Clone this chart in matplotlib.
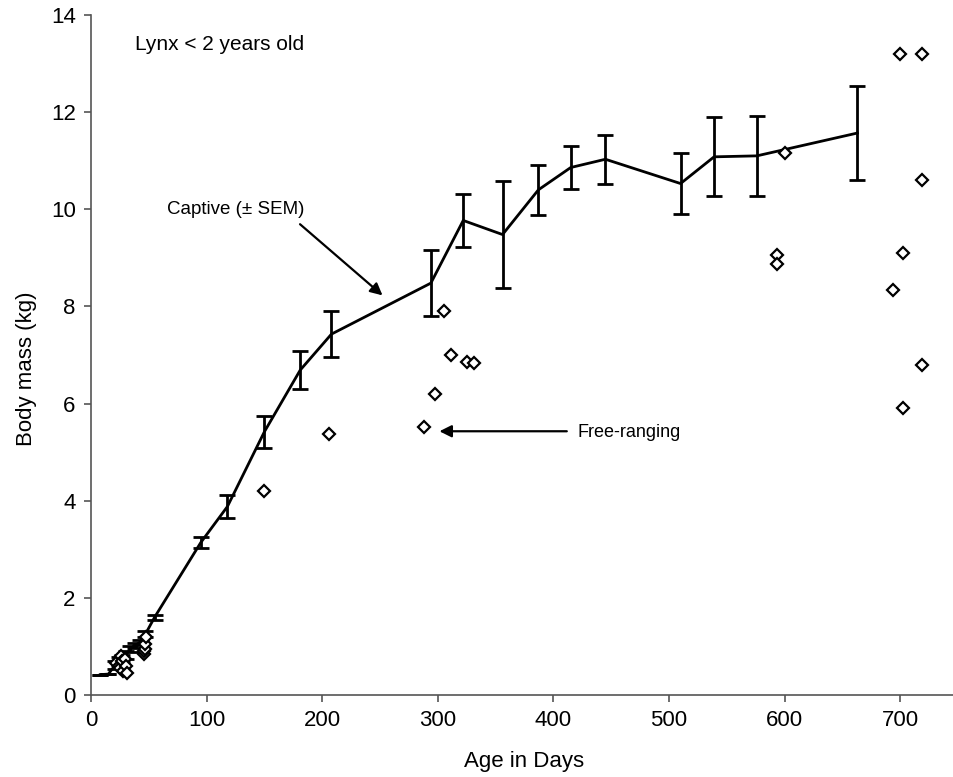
import matplotlib
matplotlib.use("Agg")
import matplotlib.pyplot as plt

plt.rcParams['font.family'] = ['Liberation Sans', 'DejaVu Sans']

# Captive lynx: mean body mass and SEM
cap_age = [8, 15, 21, 24, 27, 30, 34, 38, 42, 47, 55, 95, 118, 150, 181, 208,
           294, 322, 356, 387, 415, 445, 510, 539, 576, 663]
cap_mass = [0.42, 0.43, 0.62, 0.70, 0.75, 0.82, 0.95, 1.02, 1.08, 1.25, 1.60,
            3.14, 3.88, 5.42, 6.69, 7.43, 8.48, 9.77, 9.48, 10.40, 10.86,
            11.03, 10.53, 11.08, 11.10, 11.57]
cap_sem = [0.0, 0.0, 0.08, 0.08, 0.08, 0.08, 0.06, 0.06, 0.06, 0.06, 0.05,
           0.12, 0.24, 0.33, 0.39, 0.48, 0.68, 0.55, 1.10, 0.52, 0.44, 0.50,
           0.63, 0.81, 0.82, 0.97]

# Free-ranging lynx
free_age = [22, 24, 25, 26, 27, 28, 29, 30, 31, 46, 46, 47, 47, 48,
            150, 206, 288, 298, 305, 311, 325, 331,
            593, 593, 600, 694, 700, 702, 702, 719, 719, 719]
free_mass = [0.65, 0.60, 0.55, 0.80, 0.70, 0.50, 0.75, 0.60, 0.45, 0.85, 0.90,
             0.95, 1.05, 1.20,
             4.20, 5.37, 5.51, 6.19, 7.90, 7.00, 6.85, 6.83,
             9.05, 8.88, 11.15, 8.33, 13.20, 9.10, 5.90, 13.20, 10.60, 6.80]

x_ticks = [0, 100, 200, 300, 400, 500, 600, 700]
y_ticks = [0, 2, 4, 6, 8, 10, 12, 14]

fig = plt.figure(figsize=(9.54, 7.77), dpi=100)
ax = fig.add_axes([91/954, 82/777, 867/954, 680/777])

ax.errorbar(cap_age, cap_mass, yerr=cap_sem, color='black', lw=2,
            elinewidth=2, capsize=6, capthick=2, zorder=3)
ax.plot(free_age, free_mass, linestyle='none', marker='D', markersize=6,
        markerfacecolor='white', markeredgecolor='black', markeredgewidth=1.6,
        zorder=4)

ax.set_xlim(0, 750)
ax.set_ylim(0, 14)
ax.set_xticks(x_ticks)
ax.set_yticks(y_ticks)
for s in ['top', 'right']:
    ax.spines[s].set_visible(False)
for s in ['left', 'bottom']:
    ax.spines[s].set_color('#555555')
    ax.spines[s].set_linewidth(1.2)
ax.tick_params(axis='both', direction='out', length=5, width=1.2,
               color='#555555', labelsize=16, pad=6)

ax.set_xlabel('Age in Days', fontsize=16, labelpad=14)
ax.set_ylabel('Body mass (kg)', fontsize=16)
ax.yaxis.set_label_coords(-0.062, 0.48)

ax.text(38, 13.4, 'Lynx < 2 years old', fontsize=15, va='center', ha='left')
ax.text(66, 10.0, 'Captive (± SEM)', fontsize=13.5, va='center', ha='left')
ax.annotate('', xy=(254, 8.19), xytext=(179, 9.73),
            arrowprops=dict(arrowstyle='-|>', color='black', lw=1.6,
                            mutation_scale=18))
ax.text(421, 5.4, 'Free-ranging', fontsize=13, va='center', ha='left')
ax.annotate('', xy=(299, 5.43), xytext=(414, 5.43),
            arrowprops=dict(arrowstyle='-|>', color='black', lw=1.6,
                            mutation_scale=18))

fig.savefig('out.png', dpi=100)
